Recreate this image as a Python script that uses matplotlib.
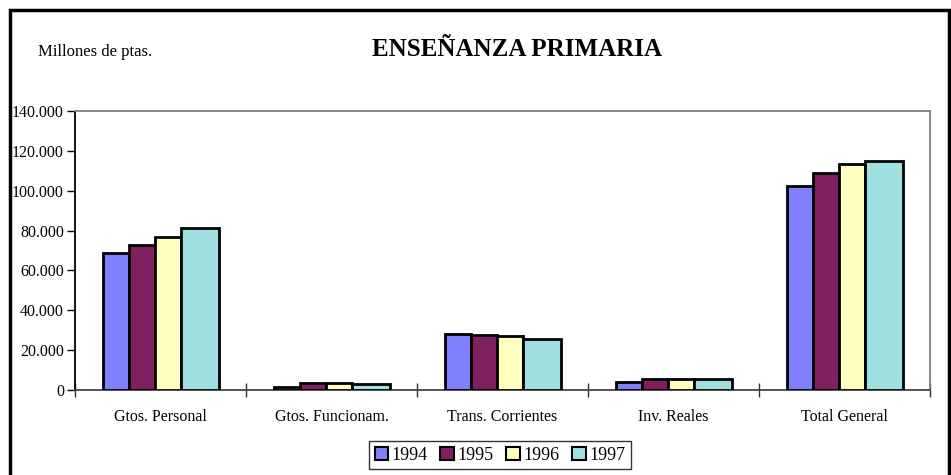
import matplotlib.pyplot as plt
import numpy as np
from matplotlib.patches import Rectangle

# datos (millones de pesetas)
categorias = ["Gtos. Personal", "Gtos. Funcionam.", "Trans. Corrientes", "Inv. Reales", "Total General"]
anios = ["1994", "1995", "1996", "1997"]
v1994 = [68700, 1700, 28100, 4200, 102500]
v1995 = [72800, 3300, 27600, 5300, 109000]
v1996 = [76900, 3600, 27300, 5400, 113400]
v1997 = [81400, 2800, 25600, 5500, 115100]
y_ticks = [0, 20000, 40000, 60000, 80000, 100000, 120000, 140000]
y_ticklabels = ["0", "20.000", "40.000", "60.000", "80.000", "100.000", "120.000", "140.000"]

colores = ["#8080FF", "#802060", "#FFFFC0", "#A0E0E0"]
anchos = [0.152, 0.152, 0.152, 0.222]  # la ultima barra sale mas ancha en el original
serif = ["Liberation Serif", "DejaVu Serif"]

fig = plt.figure(figsize=(9.51, 4.75), dpi=100)
fig.patches.append(Rectangle((10 / 951, -0.05), 939 / 951, 1 - 10 / 475 + 0.05,
                             transform=fig.transFigure, fill=False, edgecolor="black", linewidth=2.5))

ax = fig.add_axes([75 / 951, 85 / 475, 855 / 951, 279 / 475])

x = np.arange(len(categorias))
inicio = x - 0.336
for serie, color, ancho, anio in zip([v1994, v1995, v1996, v1997], colores, anchos, anios):
    ax.bar(inicio, serie, width=ancho, align="edge", color=color, edgecolor="black",
           linewidth=2, label=anio, zorder=3)
    inicio = inicio + ancho

ax.set_xlim(-0.5, len(categorias) - 0.5)
ax.set_ylim(0, 140000)
ax.set_yticks(y_ticks)
ax.set_yticklabels(y_ticklabels, fontfamily=serif, fontsize=11.5)
ax.set_xticks(x)
ax.set_xticklabels(categorias, fontfamily=serif, fontsize=11.5)
ax.set_xticks(np.arange(len(categorias) + 1) - 0.5, minor=True)
ax.tick_params(axis="x", which="major", length=0, pad=14)
ax.tick_params(axis="x", which="minor", length=10, direction="inout", width=1, color="#333333")
ax.tick_params(axis="y", length=6, width=1, direction="out", pad=2)

ax.spines["left"].set_color("black")
ax.spines["left"].set_linewidth(1.3)
ax.spines["bottom"].set_color("#444444")
ax.spines["bottom"].set_linewidth(1.3)
for s in ["top", "right"]:
    ax.spines[s].set_color("#808080")
    ax.spines[s].set_linewidth(1.3)

fig.text(517 / 951, 1 - 50 / 475, "ENSEÑANZA PRIMARIA", ha="center", va="center",
         fontfamily=serif, fontsize=18, fontweight="bold")
fig.text(38 / 951, 1 - 52 / 475, "Millones de ptas.", ha="left", va="center",
         fontfamily=serif, fontsize=12)

leg = fig.legend(loc="center", bbox_to_anchor=(500 / 951, 1 - 455 / 475), ncol=4,
                 prop={"family": serif, "size": 13}, frameon=True, fancybox=False,
                 handlelength=0.75, handleheight=0.75, handletextpad=0.2,
                 columnspacing=0.7, borderpad=0.3, borderaxespad=0)
leg.get_frame().set_edgecolor("black")
leg.get_frame().set_linewidth(1)
for h in leg.legend_handles:
    h.set_linewidth(1.5)

fig.savefig("out.png", dpi=100)
